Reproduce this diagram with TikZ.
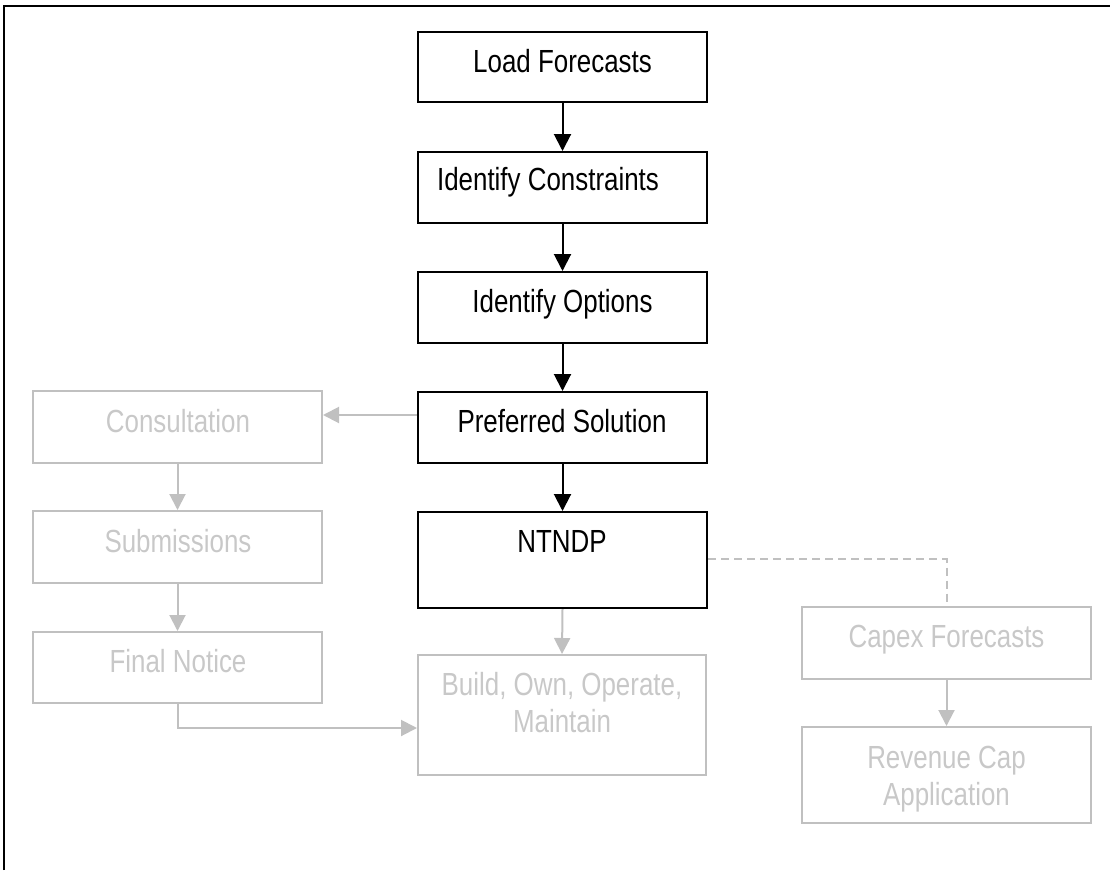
\documentclass[tikz,border=0pt]{standalone}
\usepackage{fontspec}
\setmainfont[FakeStretch=0.81]{Liberation Sans}
\usetikzlibrary{arrows.meta,calc}
\definecolor{fadeline}{RGB}{192,192,192}
\definecolor{fadetext}{RGB}{200,200,200}
\tikzset{
  bbox/.style={draw=black, line width=2pt, minimum width=289pt, inner sep=0pt},
  gbox/.style={draw=fadeline, line width=2pt, minimum width=289pt, inner sep=0pt},
  btxt/.style={text=black, inner sep=0pt, anchor=base, font=\fontsize{32}{37}\selectfont},
  gtxt/.style={text=fadetext, inner sep=0pt, anchor=base, font=\fontsize{32}{37}\selectfont, align=center},
  barr/.style={draw=black, line width=2pt, -{Triangle[length=17pt,width=17pt]}},
  garr/.style={draw=fadeline, line width=2pt, -{Triangle[length=16pt,width=16pt]}},
  gdash/.style={draw=fadeline, line width=2pt, dash pattern=on 8pt off 5pt}
}
\begin{document}
\begin{tikzpicture}[x=1pt,y=-1pt]
\useasboundingbox (0,0) rectangle (1110,870);
% outer frame (partially visible)
\draw[line width=2pt] (4,870) -- (4,6) -- (1110,6);

% main column
\node[bbox, minimum height=70pt] (lf) at (562.5,67) {};
\node[bbox, minimum height=71pt] (ic) at (562.5,187.5) {};
\node[bbox, minimum height=71pt] (io) at (562.5,307.5) {};
\node[bbox, minimum height=71pt] (ps) at (562.5,427.5) {};
\node[bbox, minimum height=96pt] (nt) at (562.5,560) {};
\node[btxt] (lft) at (562.5,72) {Load Forecasts};
\node[btxt] (ict) at (548,190) {Identify Constraints};
\node[btxt] (iot) at (562.5,312) {Identify Options};
\node[btxt] (pst) at (562,432) {Preferred Solution};
\node[btxt] (ntt) at (562,552) {NTNDP};

% left column
\node[gbox, minimum height=72pt] (cons) at (177.5,427) {};
\node[gbox, minimum height=72pt] (sub) at (177.5,547) {};
\node[gbox, minimum height=71pt] (fn) at (177.5,667.5) {};
\node[gtxt] (const) at (178,432) {Consultation};
\node[gtxt] (subt) at (178,552) {Submissions};
\node[gtxt] (fnt) at (178,672) {Final Notice};

% build box
\node[gbox, minimum width=288pt, minimum height=120pt] (bd) at (562,715) {};
\node[gtxt] (bdt1) at (562,695) {Build, Own, Operate,};
\node[gtxt] (bdt2) at (562,732) {Maintain};

% right column
\node[gbox, minimum height=72pt] (cx) at (946.5,643) {};
\node[gbox, minimum height=96pt] (rv) at (946.5,775) {};
\node[gtxt] (cxt) at (946.5,647) {Capex Forecasts};
\node[gtxt] (rvt1) at (946.5,768) {Revenue Cap};
\node[gtxt] (rvt2) at (946.5,805) {Application};

% black connectors
\draw[barr] (lf.south) -- (ic.north);
\draw[barr] (ic.south) -- (io.north);
\draw[barr] (io.south) -- (ps.north);
\draw[barr] (ps.south) -- (nt.north);

% gray connectors
\draw[garr] ([yshift=12.5pt]ps.west) -- ([yshift=12.5pt]ps.west -| cons.east);
\draw[garr] (cons.south) -- (sub.north);
\draw[garr] (sub.south) -- (fn.north);
\draw[garr] (fn.south) |- ([yshift=-13pt]bd.west);
\draw[garr] (nt.south) -- (bd.north);
\draw[gdash] ([yshift=1pt]nt.east) -| (cx.north);
\draw[garr] (cx.south) -- (rv.north);
\end{tikzpicture}
\end{document}
